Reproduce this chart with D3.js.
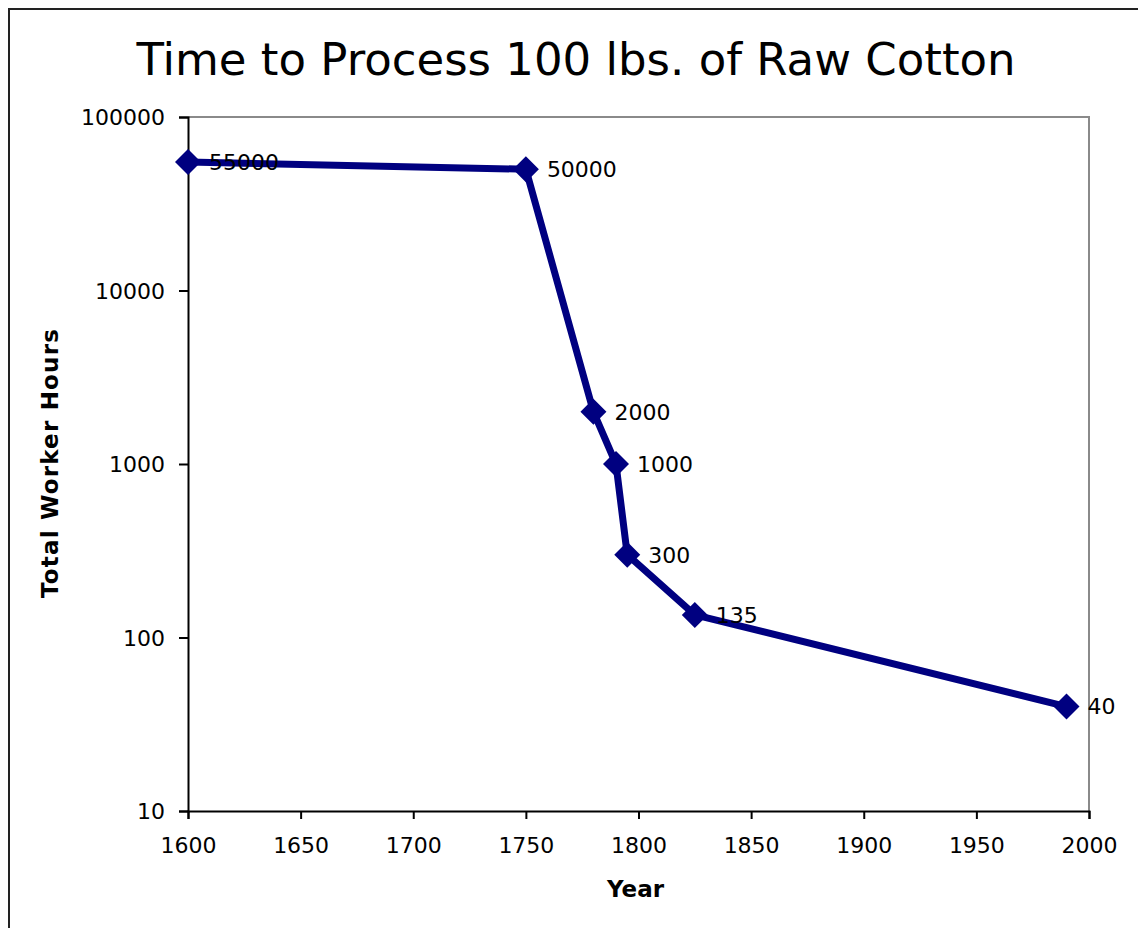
<!DOCTYPE html>
<html><head><meta charset="utf-8">
<script src="https://cdn.jsdelivr.net/npm/d3@7"></script>
<style>body{margin:0;background:#fff}svg{display:block}</style>
</head><body>
<svg id="c" width="1138" height="928"></svg>
<script>
const years = [1600, 1750, 1780, 1790, 1795, 1825, 1990];
const hours = [55000, 50000, 2000, 1000, 300, 135, 40];
const xTicks = [1600, 1650, 1700, 1750, 1800, 1850, 1900, 1950, 2000];
const yTicks = [10, 100, 1000, 10000, 100000];
const titleText = "Time to Process 100 lbs. of Raw Cotton";
const xTitle = "Year";
const yTitle = "Total Worker Hours";

const svg = d3.select("#c");
const F = "'DejaVu Sans', Verdana, sans-serif";
const m = {l: 188, r: 1089, t: 117, b: 811};
const x = d3.scaleLinear().domain([1600, 2000]).range([m.l, m.r]);
const y = d3.scaleLog().domain([10, 100000]).range([m.b, m.t]);

// outer frame
svg.append("rect").attr("x", 9).attr("y", 9).attr("width", 1300).attr("height", 1300)
  .attr("fill", "none").attr("stroke", "#222").attr("stroke-width", 2);

// plot frame (top & right gray)
svg.append("path").attr("d", `M${m.l},${m.t}H${m.r}V${m.b}`)
  .attr("fill", "none").attr("stroke", "#8a8a8a").attr("stroke-width", 2);

// title
svg.append("text").attr("x", 576).attr("y", 75).attr("text-anchor", "middle")
  .attr("font-family", F).attr("font-size", 45).attr("fill", "#000").text(titleText);

// axes
const xAxis = d3.axisBottom(x).tickValues(xTicks).tickFormat(d3.format("d")).tickSizeOuter(0).tickSize(8).tickPadding(18);
const gx = svg.append("g").attr("transform", `translate(0,${m.b})`).call(xAxis);
const yAxis = d3.axisLeft(y).tickValues(yTicks).tickFormat(d3.format("d")).tickSizeOuter(0).tickSize(9).tickPadding(14);
const gy = svg.append("g").attr("transform", `translate(${m.l},0)`).call(yAxis);
[gx, gy].forEach(g => {
  g.select(".domain").attr("stroke", "#000").attr("stroke-width", 2);
  g.selectAll(".tick line").attr("stroke", "#000").attr("stroke-width", 2);
  g.selectAll(".tick text").attr("font-family", F).attr("font-size", 22).attr("fill", "#000");
});
gy.selectAll(".tick text").attr("dy", "0.36em");

// axis titles
svg.append("text").attr("x", x(1800) - 3).attr("y", 897).attr("text-anchor", "middle")
  .attr("font-family", F).attr("font-weight", "bold").attr("font-size", 23).text(xTitle);
svg.append("text").attr("transform", "translate(58,463) rotate(-90)").attr("text-anchor", "middle")
  .attr("font-family", F).attr("font-weight", "bold").attr("font-size", 23).attr("letter-spacing", 1.2).text(yTitle);

const pts = years.map((d, i) => ({yr: d, v: hours[i]}));
// line
svg.append("path").datum(pts)
  .attr("d", d3.line().x(d => x(d.yr)).y(d => y(d.v)))
  .attr("fill", "none").attr("stroke", "#000080").attr("stroke-width", 7).attr("stroke-linejoin", "round");
// markers
svg.selectAll(".mk").data(pts).join("path").attr("class", "mk")
  .attr("transform", d => `translate(${x(d.yr)},${y(d.v)})`)
  .attr("d", "M0,-13L13,0L0,13L-13,0Z").attr("fill", "#000080");
// labels
svg.selectAll(".lb").data(pts).join("text").attr("class", "lb")
  .attr("x", d => x(d.yr) + 21).attr("y", d => y(d.v)).attr("dy", "0.36em")
  .attr("font-family", F).attr("font-size", 22).attr("fill", "#000").text(d => d.v);
</script>
</body></html>
